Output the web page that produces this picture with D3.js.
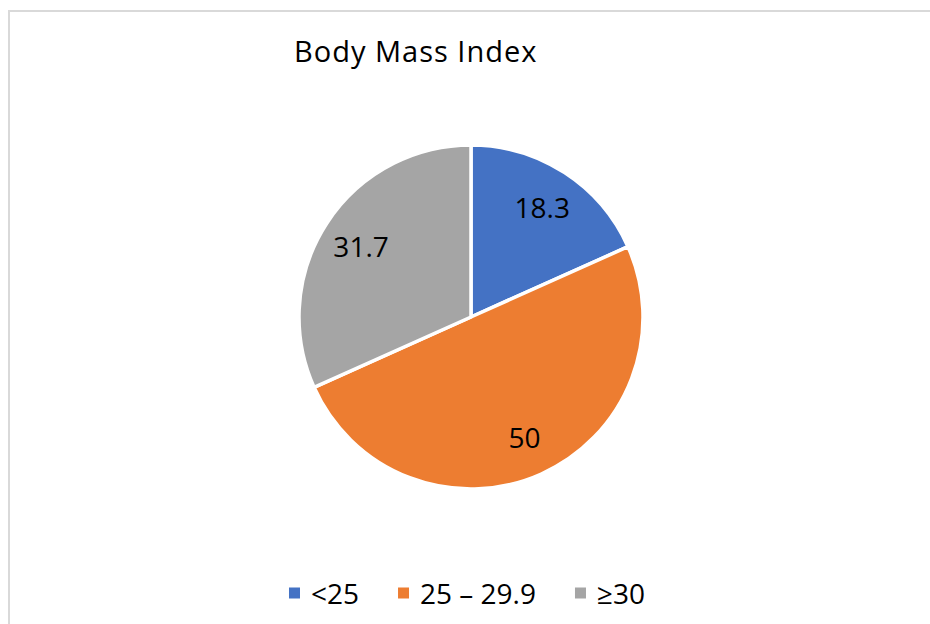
<!DOCTYPE html>
<html>
<head>
<meta charset="utf-8">
<script src="https://d3js.org/d3.v7.min.js"></script>
<style>
  body { margin: 0; background: #fff; }
  text { font-family: "Open Sans", sans-serif; fill: #000; }
</style>
</head>
<body>
<div id="chart"></div>
<script>
// BMI groups and their shares
const categories = ["<25", "25 \u2013 29.9", "\u226530"];
const values = [18.3, 50, 31.7];
const labels = ["18.3", "50", "31.7"];
const colors = ["#4472c4", "#ed7d31", "#a5a5a5"];

const width = 930, height = 624;
const cx = 471, cy = 317, radius = 172;

const svg = d3.select("#chart")
  .append("svg")
    .attr("width", width)
    .attr("height", height);

// chart area frame (only top & left show in the crop)
svg.append("rect")
    .attr("x", 9)
    .attr("y", 11)
    .attr("width", 1000)
    .attr("height", 700)
    .attr("fill", "none")
    .attr("stroke", "#d9d9d9")
    .attr("stroke-width", 2);

svg.append("text")
    .attr("x", 294)
    .attr("y", 62)
    .style("font-size", "29px")
    .style("letter-spacing", "1px")
    .text("Body Mass Index");

const data = categories.map((c, i) => ({ cat: c, value: values[i], label: labels[i], color: colors[i] }));

const pie = d3.pie()
  .value(d => d.value)
  .sort(null);

const arc = d3.arc()
  .innerRadius(0)
  .outerRadius(radius);

const labelArc = d3.arc()
  .innerRadius(131)
  .outerRadius(131);

const g = svg.append("g")
    .attr("transform", `translate(${cx}, ${cy})`);

const arcs = pie(data);

g.selectAll("path")
  .data(arcs)
  .join("path")
    .attr("d", arc)
    .attr("fill", d => d.data.color)
    .attr("stroke", "#fff")
    .attr("stroke-width", 3.5)
    .attr("stroke-linejoin", "round");

g.selectAll("text.lbl")
  .data(arcs)
  .join("text")
    .attr("class", "lbl")
    .attr("transform", d => `translate(${labelArc.centroid(d)})`)
    .attr("text-anchor", "middle")
    .attr("dy", "0.4em")
    .style("font-size", "28px")
    .text(d => d.data.label);

// legend, laid out from measured text widths and centred under the pie
const legend = svg.append("g");
const sq = 11, gapIn = 11, gapOut = 39;
const items = legend.selectAll("g")
  .data(data)
  .join("g");
items.append("rect")
    .attr("width", sq)
    .attr("height", sq)
    .attr("y", -sq / 2 - 1)
    .attr("fill", d => d.color);
items.append("text")
    .attr("x", sq + gapIn)
    .attr("dy", "0.37em")
    .style("font-size", "28px")
    .text(d => d.cat);

let xPos = 0;
items.each(function() {
  const w = sq + gapIn + d3.select(this).select("text").node().getComputedTextLength();
  d3.select(this).attr("transform", `translate(${xPos}, 0)`);
  xPos += w + gapOut;
});
const total = xPos - gapOut;
legend.attr("transform", `translate(${467 - total / 2}, 594)`);
</script>
</body>
</html>
